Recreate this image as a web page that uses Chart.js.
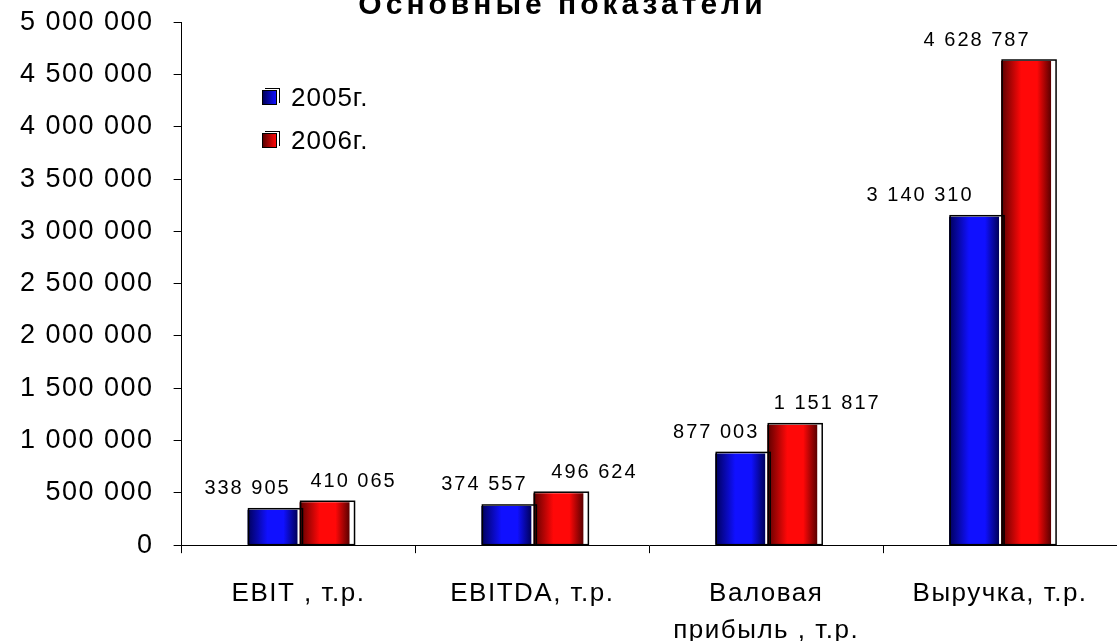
<!DOCTYPE html>
<html>
<head>
<meta charset="utf-8">
<script src="https://cdn.jsdelivr.net/npm/chart.js@4.4.0/dist/chart.umd.min.js"></script>
<style>
  html, body { margin:0; padding:0; background:#fff; }
  #wrap { position:relative; width:1117px; height:641px; overflow:hidden; }
  #c { position:absolute; left:0; top:-14px; }
  #title { position:absolute; left:0; width:1117px; top:-13px; text-align:center;
    font:bold 30px "Liberation Sans", Arial, sans-serif; letter-spacing:4px; color:#000; padding-left:4px; }
  #legend { position:absolute; left:262px; top:76px; font:26px "Liberation Sans", Arial, sans-serif; letter-spacing:1px; }
  #legend div { height:43px; display:flex; align-items:center; }
  #legend span.box { display:inline-block; width:13px; height:13px; margin-right:14px; border:1px solid #000; box-shadow:2px -1px 0 #fff, 3px -2px 0 #000; }
</style>
</head>
<body>
<div id="wrap">
  <canvas id="c" width="1117" height="669"></canvas>
  <div id="title">Основные показатели</div>
  <div id="legend"></div>
</div>
<script>
// данные
const CATEGORIES = ["EBIT , т.р.", "EBITDA, т.р.", ["Валовая", "прибыль , т.р."], "Выручка, т.р."];
const SERIES = ["2005г.", "2006г."];
const VAL_2005 = [338905, 374557, 877003, 3140310];
const VAL_2006 = [410065, 496624, 1151817, 4628787];
const Y_MAX = 5000000;
const Y_STEP = 500000;

// сдвиг подписей (как в исходной диаграмме)
const LABEL_DX = [[-25, -22, -24, -54], [29, 36, 35, -49]];
const LABEL_DY = 21;

const COLORS = [
  { dark:"#00005a", light:"#1010ff" },
  { dark:"#5a0000", light:"#ff0808" }
];

function fmt(v){
  return String(Math.round(v)).replace(/\B(?=(\d{3})+(?!\d))/g, " ");
}

// легенда
const leg = document.getElementById("legend");
SERIES.forEach((s,i)=>{
  const d = document.createElement("div");
  d.innerHTML = `<span class="box" style="background:linear-gradient(90deg, ${COLORS[i].dark}, ${COLORS[i].light})"></span>${s}`;
  leg.appendChild(d);
});

/* =====================
   градиент + рамка баров
===================== */
const barStyle = {
  id: "barStyle",
  beforeDatasetDraw(chart, args){
    const ctx = chart.ctx;
    const c = COLORS[args.index];
    args.meta.data.forEach(el=>{
      const w = el.width;
      const g = ctx.createLinearGradient(el.x - w/2, 0, el.x + w/2, 0);
      g.addColorStop(0, c.dark);
      g.addColorStop(0.4, c.light);
      g.addColorStop(0.72, c.light);
      g.addColorStop(1, c.dark);
      el.options = Object.assign({}, el.options, { backgroundColor: g });
    });
  },
  afterDatasetsDraw(chart){
    const ctx = chart.ctx;
    ctx.save();
    ctx.strokeStyle = "#000";
    ctx.lineWidth = 1.5;
    chart.data.datasets.forEach((ds, di)=>{
      chart.getDatasetMeta(di).data.forEach(el=>{
        const w = el.width;
        ctx.strokeRect(el.x - w/2 + 1, el.y - 1, w + 4, el.base - el.y + 1);
      });
    });
    // подписи значений
    ctx.fillStyle = "#000";
    ctx.font = "20px 'Liberation Sans', Arial, sans-serif";
    ctx.letterSpacing = "2px";
    ctx.textAlign = "center";
    ctx.textBaseline = "middle";
    chart.data.datasets.forEach((ds, di)=>{
      chart.getDatasetMeta(di).data.forEach((el, i)=>{
        ctx.fillText(fmt(ds.data[i]), el.x + LABEL_DX[di][i], el.y - LABEL_DY);
      });
    });
    ctx.restore();
  }
};

const spacing = {
  id: "spacing",
  beforeDraw(chart){ chart.ctx.letterSpacing = "1.5px"; },
  beforeLayout(chart){ chart.ctx.letterSpacing = "1.5px"; }
};

new Chart(document.getElementById("c"), {
  type: "bar",
  data: {
    labels: CATEGORIES,
    datasets: [
      { label: SERIES[0], data: VAL_2005, borderWidth: 0 },
      { label: SERIES[1], data: VAL_2006, borderWidth: 0 }
    ]
  },
  options: {
    responsive: false,
    animation: false,
    categoryPercentage: 0.445,
    barPercentage: 0.96,
    layout: { padding: { top: 0, left: 0, right: 0, bottom: -16 } },
    plugins: { legend: { display: false }, tooltip: { enabled: false }, title: { display: false } },
    scales: {
      y: {
        min: 0, max: Y_MAX,
        ticks: { stepSize: Y_STEP, color: "#000", padding: 20,
          font: { family: "'Liberation Sans', Arial, sans-serif", size: 27 },
          callback: v => fmt(v) },
        grid: { drawOnChartArea: false, drawTicks: true, tickLength: 8, color: "#000" },
        border: { color: "#000", width: 1 }
      },
      x: {
        ticks: { color: "#000", padding: 22,
          font: { family: "'Liberation Sans', Arial, sans-serif", size: 26, lineHeight: 1.42 } },
        grid: { drawOnChartArea: false, drawTicks: true, tickLength: 8, color: "#000", offset: true },
        border: { color: "#000", width: 1 }
      }
    }
  },
  plugins: [spacing, barStyle]
});
</script>
</body>
</html>
